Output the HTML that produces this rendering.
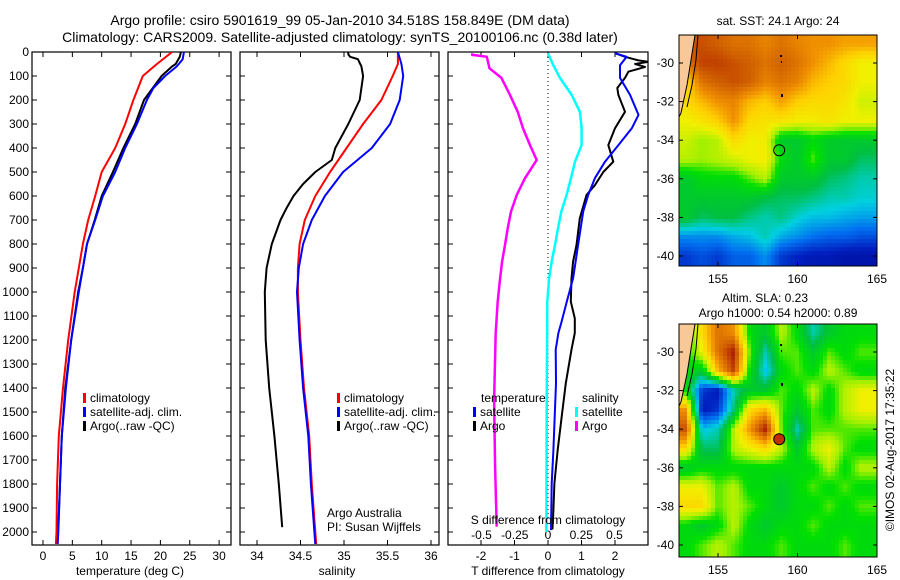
<!DOCTYPE html>
<html><head><meta charset="utf-8"><style>
html,body{margin:0;padding:0;background:#fff;}
svg{display:block;font-family:"Liberation Sans",Arial,sans-serif;}
text{fill:#000;}
</style></head><body>
<svg id="chart" width="900" height="580" viewBox="0 0 900 580" xmlns="http://www.w3.org/2000/svg">
<defs>
<clipPath id="cp1"><rect x="32" y="52" width="199" height="493"/></clipPath>
<clipPath id="cp2"><rect x="240" y="52" width="199" height="493"/></clipPath>
<clipPath id="cp3"><rect x="448" y="52" width="200" height="493"/></clipPath>
<clipPath id="cm1"><rect x="679" y="35" width="198" height="231"/></clipPath>
<clipPath id="cm2"><rect x="679" y="324" width="198" height="233"/></clipPath>
</defs>
<text x="340" y="25" font-size="14" text-anchor="middle">Argo profile: csiro 5901619_99 05-Jan-2010 34.518S 158.849E (DM data)</text>
<text x="340" y="42" font-size="14" text-anchor="middle">Climatology: CARS2009. Satellite-adjusted climatology: synTS_20100106.nc (0.38d later)</text>
<g id="g1"></g>
<g id="g2"></g>
<g id="g3"></g>
<g id="m1"></g>
<g id="m2"></g>
<text x="778" y="25" font-size="12" text-anchor="middle">sat. SST: 24.1  Argo: 24</text>
<text x="765" y="302" font-size="12" text-anchor="middle">Altim. SLA: 0.23</text>
<text x="778" y="317" font-size="12" text-anchor="middle">Argo h1000: 0.54 h2000: 0.89</text>
<text x="0" y="0" font-size="12" text-anchor="middle" transform="translate(894,450) rotate(-90)">©IMOS 02-Aug-2017 17:35:22</text>
</svg>
<script>
// ---- data ----
const depthTicks = [0,100,200,300,400,500,600,700,800,900,1000,1100,1200,1300,1400,1500,1600,1700,1800,1900,2000];
const tempTicks = [0,5,10,15,20,25,30];
const salTicks = [34,34.5,35,35.5,36];
const salTickLabels = ["34","34.5","35","35.5","36"];
const tdiffTicks = [-2,-1,0,1,2];
const sdiffTicks = [-0.5,-0.25,0,0.25,0.5];

const tClimDepth = [0,50,100,200,300,400,500,600,700,800,900,1000,1200,1400,1600,1800,2000,2050];
const tClim = [22,19.4,17,15.4,14,12.3,10,8.9,7.7,6.8,6.1,5.4,4.3,3.4,2.7,2.4,2.3,2.2];
const tSatDepth = [0,30,60,100,150,200,300,400,500,600,700,800,900,1000,1200,1400,1600,1800,2000,2050];
const tSat = [24,23.8,22.8,20.8,18.8,17.7,16,14,12.3,10.2,8.9,7.5,6.8,6.1,4.8,3.9,3.2,2.9,2.6,2.5];
const tArgoDepth = [0,20,50,60,100,200,300,400,500,600,700,800,900,1000,1200,1400,1600,1800,1980];
const tArgo = [23.5,23.3,22.6,22,20.2,17.2,15.7,13.7,11.9,10,8.8,7.5,6.8,6.0,4.8,3.8,3.2,2.9,2.6];

const sClimDepth = [0,50,100,200,300,400,500,600,700,800,900,1000,1200,1400,1600,1800,2000,2050];
const sClim = [35.62,35.62,35.56,35.43,35.22,35.03,34.84,34.67,34.55,34.49,34.47,34.47,34.5,34.54,34.6,34.63,34.67,34.68];
const sSat = [35.62,35.66,35.68,35.64,35.53,35.32,34.99,34.78,34.63,34.53,34.48,34.46,34.49,34.53,34.59,34.62,34.66,34.67];
const sArgoDepth = [0,10,20,30,60,100,150,200,300,400,450,500,550,600,650,700,800,900,1000,1200,1400,1600,1800,1980];
const sArgo = [35.05,35.05,35.07,35.16,35.2,35.22,35.2,35.18,35.05,34.9,34.86,34.67,34.53,34.42,34.34,34.27,34.17,34.11,34.09,34.1,34.14,34.2,34.25,34.29];

const sDiffArgoDepth = [5,12,20,68,108,179,249,318,388,450,526,596,665,735,804,873,943,1040,1171,1450,1728,1978];
const sDiffArgo = [-0.57,-0.57,-0.46,-0.44,-0.35,-0.286,-0.228,-0.188,-0.135,-0.085,-0.173,-0.235,-0.278,-0.303,-0.323,-0.345,-0.36,-0.378,-0.393,-0.405,-0.398,-0.386];
const sDiffSatDepth = [5,55,108,179,249,318,388,457,526,596,665,735,804,873,943,1040,1500,2000];
const sDiffSat = [0,0.04,0.09,0.178,0.24,0.253,0.253,0.203,0.173,0.14,0.1,0.075,0.053,0.028,0.008,-0.005,-0.01,-0.012];
const tDiffSatDepth = [5,20,55,108,179,262,318,388,457,526,596,665,804,943,1040,1122,1171,1240,1380,1519,1658,1797,1992];
const tDiffSat = [2.0,2.35,2.15,2.15,2.45,2.7,2.5,2.1,1.7,1.4,1.2,1.05,0.9,0.75,0.56,0.41,0.31,0.23,0.24,0.2,0.16,0.11,0.09];
const tDiffArgoDepth = [5,20,35,41,50,62,82,108,150,179,249,318,388,457,500,555,596,693,804,873,943,1040,1110,1171,1240,1380,1519,1658,1797,1908,1990];
const tDiffArgo = [2.0,2.3,2.7,3.0,2.6,2.9,2.4,2.3,2.07,2.1,2.3,2.0,1.8,1.95,1.65,1.4,1.15,0.95,0.85,0.75,0.7,0.68,0.8,0.8,0.7,0.53,0.41,0.29,0.19,0.16,0.13];

const mapLons = [153.0,154.0,155.0,156.0,157.0,158.0,159.0,160.0,161.0,162.0,163.0,164.0];
const mapLats = [-29,-30,-31,-32,-33,-34,-35,-36,-37,-38,-39,-40];
const sstGrid = [
[.9,.9,.88,.85,.85,.82,.85,.82,.8,.8,.78,.78],
[.85,.92,.92,.9,.88,.85,.88,.85,.8,.75,.7,.65],
[.7,.85,.88,.9,.88,.82,.85,.82,.75,.72,.7,.65],
[.7,.75,.8,.82,.75,.72,.78,.72,.7,.7,.68,.62],
[.65,.68,.72,.8,.7,.68,.68,.66,.66,.68,.65,.65],
[.62,.58,.6,.7,.65,.66,.45,.45,.5,.46,.45,.45],
[.6,.58,.6,.62,.65,.66,.5,.45,.55,.45,.45,.4],
[.45,.5,.5,.5,.55,.6,.45,.45,.45,.4,.38,.35],
[.45,.45,.45,.45,.45,.42,.4,.4,.38,.35,.35,.33],
[.45,.4,.42,.42,.38,.35,.38,.33,.3,.3,.28,.27],
[.25,.25,.25,.28,.3,.35,.28,.25,.22,.2,.2,.18],
[.15,.18,.15,.2,.2,.25,.15,.12,.1,.1,.08,.08]];
const slaGrid = [
[.5,.7,.85,.8,.5,.45,.6,.5,.35,.45,.5,.5],
[.5,.65,.85,.97,.55,.35,.55,.55,.45,.55,.5,.55],
[.5,.45,.75,.92,.5,.3,.5,.55,.5,.6,.55,.5],
[.5,.15,.1,.35,.45,.45,.55,.5,.6,.5,.6,.65],
[.8,.1,.15,.4,.7,.75,.55,.45,.55,.5,.6,.65],
[.9,.3,.35,.6,.8,.97,.55,.35,.55,.55,.55,.55],
[.7,.4,.4,.6,.65,.7,.6,.45,.6,.65,.55,.5],
[.45,.5,.5,.5,.5,.5,.5,.5,.5,.6,.5,.6],
[.65,.65,.55,.6,.5,.5,.45,.5,.55,.5,.55,.5],
[.7,.7,.55,.6,.55,.5,.45,.5,.5,.55,.5,.55],
[.5,.45,.5,.6,.5,.45,.5,.5,.55,.5,.5,.5],
[.5,.55,.6,.55,.5,.5,.55,.5,.5,.5,.55,.5]];
const argoLon = 158.849, argoLat = -34.518;
const mapLonTicks = [155,160,165];
const mapLatTicks = [-30,-32,-34,-36,-38,-40];

// ---- helpers ----
const NS = "http://www.w3.org/2000/svg";
function mk(parent, tag, attrs, txt){
  const e = document.createElementNS(NS, tag);
  for (const k in attrs) e.setAttribute(k, attrs[k]);
  if (txt !== undefined) e.textContent = txt;
  parent.appendChild(e);
  return e;
}
const yD = d => 52 + d * 0.24;
const xT = v => 43 + v * 5.87;
const xS = v => 257 + (v - 34) * 87;
const xTd = v => 548 + v * 33.5;
const xSd = v => 548 + v * 133;
function pathOf(depths, vals, sx){
  return depths.map((d,i)=>(i?"L":"M")+sx(vals[i]).toFixed(1)+","+yD(d).toFixed(1)).join("");
}
function frame(g, x0, x1, name){
  const r = mk(g, "rect", {x:x0, y:52, width:x1-x0, height:493, fill:"none", stroke:"#000", "stroke-width":1.2});
  
  
  depthTicks.forEach(d=>{
    mk(g, "line", {x1:x0, x2:x0+5, y1:yD(d), y2:yD(d), stroke:"#000"});
    mk(g, "line", {x1:x1, x2:x1-5, y1:yD(d), y2:yD(d), stroke:"#000"});
  });
}
function series(g, clip, depths, vals, sx, color, name, w){
  const p = mk(g, "path", {d:pathOf(depths, vals, sx), fill:"none", stroke:color, "stroke-width":w||2, "clip-path":"url(#"+clip+")", "stroke-linejoin":"round"});
  
  
}
function legend(g, x, y, color, label, name){
  const m = mk(g, "rect", {x:x, y:y-9, width:3, height:10, fill:color});
  
  
  const t = mk(g, "text", {x:x+7, y:y, "font-size":12}, label);
  
  
}

// ---- panel 1 ----
const g1 = document.getElementById("g1");
frame(g1, 32, 231, "temperature");
depthTicks.forEach(d=>{
  const t = mk(g1, "text", {x:29, y:yD(d)+4, "font-size":12, "text-anchor":"end"}, String(d));
  
  
});
tempTicks.forEach(v=>{
  mk(g1, "line", {x1:xT(v), x2:xT(v), y1:545, y2:540, stroke:"#000"});
  mk(g1, "line", {x1:xT(v), x2:xT(v), y1:52, y2:57, stroke:"#000"});
  const t = mk(g1, "text", {x:xT(v), y:560, "font-size":12, "text-anchor":"middle"}, String(v));
  
  
});
const tx1 = mk(g1, "text", {x:130, y:575, "font-size":12, "text-anchor":"middle"}, "temperature (deg C)");


series(g1, "cp1", tClimDepth, tClim, xT, "#ff0000", "temp-climatology-line");
series(g1, "cp1", tArgoDepth, tArgo, xT, "#000000", "temp-argo-line");
series(g1, "cp1", tSatDepth, tSat, xT, "#0000ff", "temp-satellite-line");
legend(g1, 83, 402, "#ff0000", "climatology", "temp-legend-climatology");
legend(g1, 83, 416, "#0000ff", "satellite-adj. clim.", "temp-legend-satellite");
legend(g1, 83, 430, "#000000", "Argo(..raw -QC)", "temp-legend-argo");

// ---- panel 2 ----
const g2 = document.getElementById("g2");
frame(g2, 240, 439, "salinity");
salTicks.forEach((v,i)=>{
  mk(g2, "line", {x1:xS(v), x2:xS(v), y1:545, y2:540, stroke:"#000"});
  mk(g2, "line", {x1:xS(v), x2:xS(v), y1:52, y2:57, stroke:"#000"});
  const t = mk(g2, "text", {x:xS(v), y:560, "font-size":12, "text-anchor":"middle"}, salTickLabels[i]);
  
  
});
const tx2 = mk(g2, "text", {x:337, y:575, "font-size":12, "text-anchor":"middle"}, "salinity");


series(g2, "cp2", sClimDepth, sClim, xS, "#ff0000", "sal-climatology-line");
series(g2, "cp2", sClimDepth, sSat, xS, "#0000ff", "sal-satellite-line");
series(g2, "cp2", sArgoDepth, sArgo, xS, "#000000", "sal-argo-line");
legend(g2, 337, 402, "#ff0000", "climatology", "sal-legend-climatology");
legend(g2, 337, 416, "#0000ff", "satellite-adj. clim.", "sal-legend-satellite");
legend(g2, 337, 430, "#000000", "Argo(..raw -QC)", "sal-legend-argo");
const cr1 = mk(g2, "text", {x:327, y:517, "font-size":12}, "Argo Australia");


const cr2 = mk(g2, "text", {x:327, y:531, "font-size":12}, "PI: Susan Wijffels");



// ---- panel 3 ----
const g3 = document.getElementById("g3");
frame(g3, 448, 648, "difference");
mk(g3, "line", {x1:548, x2:548, y1:53, y2:520, stroke:"#000", "stroke-dasharray":"1,3"});
tdiffTicks.forEach(v=>{
  mk(g3, "line", {x1:xTd(v), x2:xTd(v), y1:545, y2:540, stroke:"#000"});
  mk(g3, "line", {x1:xTd(v), x2:xTd(v), y1:52, y2:57, stroke:"#000"});
  const t = mk(g3, "text", {x:xTd(v), y:560, "font-size":12, "text-anchor":"middle"}, String(v));
  
  
});
sdiffTicks.forEach(v=>{
  const t = mk(g3, "text", {x:xSd(v), y:539, "font-size":12, "text-anchor":"middle"}, String(v));
  
  
});
series(g3, "cp3", sDiffArgoDepth, sDiffArgo, xSd, "#ff00ff", "s-diff-argo-line", 2.5);
series(g3, "cp3", sDiffSatDepth, sDiffSat, xSd, "#00ffff", "s-diff-satellite-line", 2.5);
series(g3, "cp3", tDiffArgoDepth, tDiffArgo, xTd, "#000000", "t-diff-argo-line", 2);
series(g3, "cp3", tDiffSatDepth, tDiffSat, xTd, "#0000ff", "t-diff-satellite-line", 2);
const sdt = mk(g3, "text", {x:548, y:524, "font-size":12, "text-anchor":"middle"}, "S difference from climatology");


const tdt = mk(g3, "text", {x:548, y:575, "font-size":12, "text-anchor":"middle"}, "T difference from climatology");


const lt = mk(g3, "text", {x:481, y:402, "font-size":12}, "temperature");


const ls = mk(g3, "text", {x:582, y:402, "font-size":12}, "salinity");


legend(g3, 473, 416, "#0000ff", "satellite", "diff-legend-t-satellite");
legend(g3, 473, 430, "#000000", "Argo", "diff-legend-t-argo");
legend(g3, 575, 416, "#00ffff", "satellite", "diff-legend-s-satellite");
legend(g3, 575, 430, "#ff00ff", "Argo", "diff-legend-s-argo");

// ---- maps ----
const cstops = [[0,[0,0,128]],[.12,[0,32,192]],[.22,[0,112,240]],[.32,[0,208,224]],[.42,[0,192,64]],[.52,[0,224,0]],[.58,[160,240,0]],[.65,[240,240,0]],[.72,[255,208,0]],[.8,[240,144,0]],[.88,[208,96,0]],[1,[160,0,0]]];
function cmap(v){
  for (let i=1;i<cstops.length;i++){
    if (v<=cstops[i][0]){
      const a=cstops[i-1], b=cstops[i], t=(v-a[0])/(b[0]-a[0]);
      const c=a[1].map((x,k)=>Math.round(x+(b[1][k]-x)*t));
      return "rgb("+c.join(",")+")";
    }
  }
  return "rgb(160,0,0)";
}
function sampleGrid(grid, lon, lat){
  let fc = (lon - mapLons[0]) / (mapLons[1]-mapLons[0]);
  let fr = (mapLats[0] - lat) / (mapLats[0]-mapLats[1]);
  fc = Math.max(0, Math.min(mapLons.length-1, fc));
  fr = Math.max(0, Math.min(mapLats.length-1, fr));
  const c0 = Math.min(Math.floor(fc), mapLons.length-2), r0 = Math.min(Math.floor(fr), mapLats.length-2);
  const tc = fc-c0, tr = fr-r0;
  const v00=grid[r0][c0], v01=grid[r0][c0+1], v10=grid[r0+1][c0], v11=grid[r0+1][c0+1];
  return (v00*(1-tc)+v01*tc)*(1-tr) + (v10*(1-tc)+v11*tc)*tr;
}
function drawMap(id, clip, top, h, grid, filledMarker){
  const g = document.getElementById(id);
  const lonX = lon => 718 + (lon-155)*15.9;
  const latY = lat => top + 28 + (-30-lat)*19.3;
  const xLon = x => 155 + (x-718)/15.9;
  const yLat = y => -30 - (y-top-28)/19.3;
  const cells = mk(g, "g", {"clip-path":"url(#"+clip+")"});
  const step = 4;
  for (let y = top; y < top+h; y += step){
    for (let x = 679; x < 877; x += step){
      const v = sampleGrid(grid, xLon(x+step/2), yLat(y+step/2));
      const cell = mk(cells, "rect", {x:x, y:y, width:step+0.4, height:step+0.4, fill:cmap(v)});
      
      
    }
  }
  const land = mk(cells, "path", {d:`M679,${top}L695,${top}L691,${top+25}L687,${top+50}L681,${top+78}L679,${top+82}Z`, fill:"#f8c898", stroke:"#000", "stroke-width":1});
  
  
  mk(cells, "path", {d:`M698,${top}L696,${top+25}L692,${top+50}L687,${top+72}`, fill:"none", stroke:"#000", "stroke-width":1});
  mk(cells, "rect", {x:780, y:top+20, width:2, height:2, fill:"#000"});
  mk(cells, "rect", {x:781, y:top+26, width:1, height:2, fill:"#000"});
  mk(cells, "rect", {x:781, y:top+59, width:2, height:3, fill:"#000"});
  const fr = mk(g, "rect", {x:679, y:top, width:198, height:h, fill:"none", stroke:"#000", "stroke-width":1});
  
  
  const bottom = top + h;
  mapLonTicks.forEach(l=>{
    mk(g, "line", {x1:lonX(l), x2:lonX(l), y1:bottom, y2:bottom-4, stroke:"#000"});
    mk(g, "line", {x1:lonX(l), x2:lonX(l), y1:top, y2:top+4, stroke:"#000"});
    const t = mk(g, "text", {x:lonX(l), y:bottom+17, "font-size":12, "text-anchor":"middle"}, String(l));
    
    
  });
  mapLatTicks.forEach(l=>{
    mk(g, "line", {x1:679, x2:683, y1:latY(l), y2:latY(l), stroke:"#000"});
    mk(g, "line", {x1:877, x2:873, y1:latY(l), y2:latY(l), stroke:"#000"});
    const t = mk(g, "text", {x:674, y:latY(l)+4, "font-size":12, "text-anchor":"end"}, String(l));
    
    
  });
  const m = mk(g, "circle", {cx:lonX(argoLon), cy:latY(argoLat), r:5.5, fill:filledMarker?"#c03000":"none", stroke:"#000", "stroke-width":1});
  
  
}
drawMap("m1", "cm1", 35, 231, sstGrid, false);
drawMap("m2", "cm2", 324, 233, slaGrid, true);
</script>
</body></html>
